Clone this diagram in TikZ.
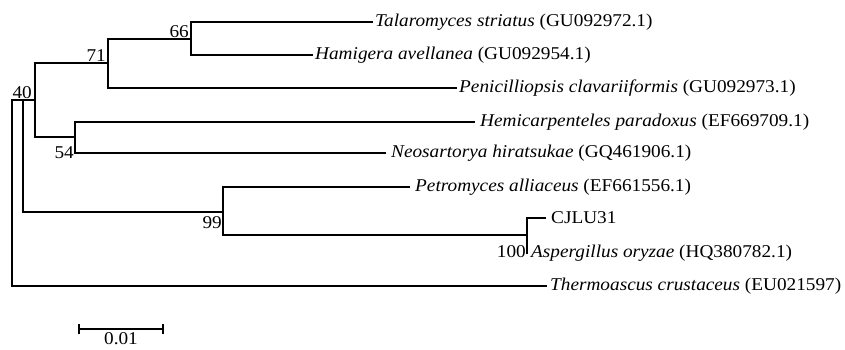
\documentclass[tikz,border=0pt]{standalone}
\usepackage{graphicx}
\usepackage{fontspec}
\setmainfont{Liberation Serif}
\usetikzlibrary{calc}
\newcommand{\widetxt}[1]{\scalebox{1.07}[1]{#1}}
\begin{document}
\begin{tikzpicture}[x=1pt,y=-1pt,
  br/.style={line width=1.6pt, line cap=rect},
  tip/.style={anchor=west, inner sep=0pt, font=\fontsize{18}{18}\selectfont},
  bs/.style={inner sep=1pt, font=\fontsize{18}{18}\selectfont}]
\useasboundingbox (0,0) rectangle (845,350);
% internal nodes
\coordinate (r) at (12,156);
\coordinate (n23) at (23,100);
\coordinate (n40) at (35,100);
\coordinate (n71) at (108,63);
\coordinate (n66) at (191,39);
\coordinate (n54) at (75,137);
\coordinate (n99) at (223,212);
\coordinate (n100) at (527,235);
% tips
\coordinate (tTal) at (372,22);
\coordinate (tHam) at (312,55);
\coordinate (tPen) at (456,88);
\coordinate (tHem) at (474,122);
\coordinate (tNeo) at (385,153);
\coordinate (tPet) at (409,187);
\coordinate (tCJ) at (545,218);
\coordinate (tAsp) at (527,253);
\coordinate (tThe) at (546,286);
% branches
\draw[br] (tThe) -| (r) |- (n23);
\draw[br] (n40 |- n71) -- (n71);
\draw[br] (n23 |- n99) -- (n99);
\draw[br] (n23 |- n99) |- (n40) ;
\draw[br] (n40 |- n71) |- (n40 |- n54) -- (n54);
\draw[br] (n71 |- n66) -- (n66);
\draw[br] (tPen) -| (n71) |- (n66);
\draw[br] (tTal) -| (n66) |- (tHam);
\draw[br] (tHem) -| (n54) |- (tNeo);
\draw[br] (tPet) -| (n99) |- (n100);
\draw[br] (tCJ) -| (n100) -- (tAsp);
% tip labels
\node[tip] (lTal) at ([xshift=3pt]tTal) {\widetxt{\textit{Talaromyces striatus} (GU092972.1)}};
\node[tip] (lHam) at ([xshift=3pt]tHam) {\widetxt{\textit{Hamigera avellanea} (GU092954.1)}};
\node[tip] (lPen) at ([xshift=3pt]tPen) {\widetxt{\textit{Penicilliopsis clavariiformis} (GU092973.1)}};
\node[tip] (lHem) at ([xshift=6pt]tHem) {\widetxt{\textit{Hemicarpenteles paradoxus} (EF669709.1)}};
\node[tip] (lNeo) at ([xshift=6pt]tNeo) {\widetxt{\textit{Neosartorya hiratsukae} (GQ461906.1)}};
\node[tip] (lPet) at ([xshift=6pt]tPet) {\widetxt{\textit{Petromyces alliaceus} (EF661556.1)}};
\node[tip] (lCJ) at ([xshift=6pt]tCJ) {\widetxt{CJLU31}};
\node[tip] (lAsp) at ([xshift=4pt]tAsp) {\widetxt{\textit{Aspergillus oryzae} (HQ380782.1)}};
\node[tip] (lThe) at ([xshift=4pt]tThe) {\widetxt{\textit{Thermoascus crustaceus} (EU021597)}};
% bootstrap
\node[bs, anchor=south east] (b66) at ([xshift=-1pt]n66) {\widetxt{66}};
\node[bs, anchor=south east] (b71) at ([xshift=-1pt]n71) {\widetxt{71}};
\node[bs, anchor=south east] (b40) at ([xshift=-2pt]n40) {\widetxt{40}};
\node[bs, anchor=east] (b54) at (n54 |- tNeo) {\widetxt{54}};
\node[bs, anchor=north east] (b99) at ([yshift=-3pt]n99) {\widetxt{99}};
\node[bs, anchor=east] (b100) at ([yshift=1pt]n100 |- tAsp) {\widetxt{100}};
% scale bar
\coordinate (sa) at (79,329);
\coordinate (sb) at (163,329);
\draw[br, line cap=butt] (sa) -- (sb);
\draw[line width=1.4pt] ([yshift=-5pt]sa) -- ([yshift=5pt]sa) ([yshift=-5pt]sb) -- ([yshift=5pt]sb);
\node[inner sep=0pt, font=\fontsize{18}{18}\selectfont, anchor=north] (sl) at ([yshift=-3pt]$(sa)!0.5!(sb)$) {\widetxt{0.01}};
\end{tikzpicture}
\end{document}
